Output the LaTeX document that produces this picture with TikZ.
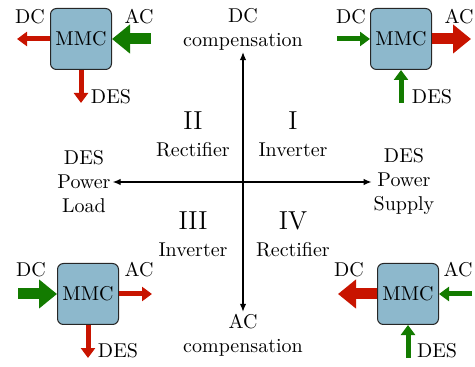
\documentclass[tikz,border=0pt]{standalone}
\usepackage{xcolor}
\usepackage{tikz}
\usetikzlibrary{arrows.meta, positioning}
\definecolor{desred}{HTML}{C81400}
\definecolor{desgreen}{HTML}{137B00}
\definecolor{mmcblue}{HTML}{8DB8CC}

\begin{document}
\begin{tikzpicture}[
  x=0.5pt, y=-0.5pt,
  mmc/.style={rectangle, rounded corners=3pt, draw=black!85, line width=0.5pt, fill=mmcblue, minimum size=30.5pt, inner sep=0pt},
  thinarr/.style={-{Triangle[length=5pt, width=7pt]}, line width=2.5pt},
  thickarr/.style={-{Triangle[length=9pt, width=14pt]}, line width=5.5pt},
  axisarrow/.style={{Latex[length=4pt, width=3.2pt]}-{Latex[length=4pt, width=3.2pt]}, line width=0.6pt, shorten <=-2.5pt, shorten >=-2.5pt},
  lbl/.style={inner sep=0pt},
  quad/.style={font=\fontsize{13}{15}\selectfont, inner sep=0pt}
]
\useasboundingbox (0,0) rectangle (475,367);

% axes
\node[align=center] (dccomp) at (243,29) {DC\\compensation};
\node[align=center] (accomp) at (243,335) {AC\\compensation};
\node[align=center] (load) at (84,182) {DES\\Power\\Load};
\node[align=center] (supply) at (404,182) {DES\\Power\\Supply};
\draw[axisarrow] (load) -- (supply);
\draw[axisarrow] (accomp) -- (dccomp);

% quadrants
\node[quad] (q2) at (193,121) {II};
\node[lbl] (q2txt) at (193,150) {Rectifier};
\node[quad] (q1) at (293,121) {I};
\node[lbl] (q1txt) at (293,150) {Inverter};
\node[quad] (q3) at (193,221) {III};
\node[lbl] (q3txt) at (193,250) {Inverter};
\node[quad] (q4) at (293,221) {IV};
\node[lbl] (q4txt) at (293,250) {Rectifier};

% top left
\node[mmc] (tl) at (81,39) {MMC};
\coordinate (tl-dc) at (17,39);
\coordinate (tl-ac) at (151,39);
\coordinate (tl-des) at (81,103);
\draw[thinarr, desred] (tl.west) -- (tl-dc);
\draw[thickarr, desgreen] (tl-ac) -- (tl.east);
\draw[thinarr, desred] (tl.south) -- (tl-des);
\node[lbl] (tl-dcl) at (30,17) {DC};
\node[lbl] (tl-acl) at (139,17) {AC};
\node[lbl] (tl-desl) at (111,97) {DES};

% top right
\node[mmc] (tr) at (401,39) {MMC};
\coordinate (tr-dc) at (337,39);
\coordinate (tr-ac) at (471,39);
\coordinate (tr-des) at (401,103);
\draw[thinarr, desgreen] (tr-dc) -- (tr.west);
\draw[thickarr, desred] (tr.east) -- (tr-ac);
\draw[thinarr, desgreen] (tr-des) -- (tr.south);
\node[lbl] (tr-dcl) at (351,17) {DC};
\node[lbl] (tr-acl) at (459,17) {AC};
\node[lbl] (tr-desl) at (432,97) {DES};

% bottom left
\node[mmc] (bl) at (88,294) {MMC};
\coordinate (bl-dc) at (18,294);
\coordinate (bl-ac) at (152,294);
\coordinate (bl-des) at (88,358);
\draw[thickarr, desgreen] (bl-dc) -- (bl.west);
\draw[thinarr, desred] (bl.east) -- (bl-ac);
\draw[thinarr, desred] (bl.south) -- (bl-des);
\node[lbl] (bl-dcl) at (31,270) {DC};
\node[lbl] (bl-acl) at (139,270) {AC};
\node[lbl] (bl-desl) at (118,351) {DES};

% bottom right
\node[mmc] (br) at (408,294) {MMC};
\coordinate (br-dc) at (338,294);
\coordinate (br-ac) at (472,294);
\coordinate (br-des) at (408,358);
\draw[thickarr, desred] (br.west) -- (br-dc);
\draw[thinarr, desgreen] (br-ac) -- (br.east);
\draw[thinarr, desgreen] (br-des) -- (br.south);
\node[lbl] (br-dcl) at (349,270) {DC};
\node[lbl] (br-acl) at (458,270) {AC};
\node[lbl] (br-desl) at (437,351) {DES};
\end{tikzpicture}
\end{document}
